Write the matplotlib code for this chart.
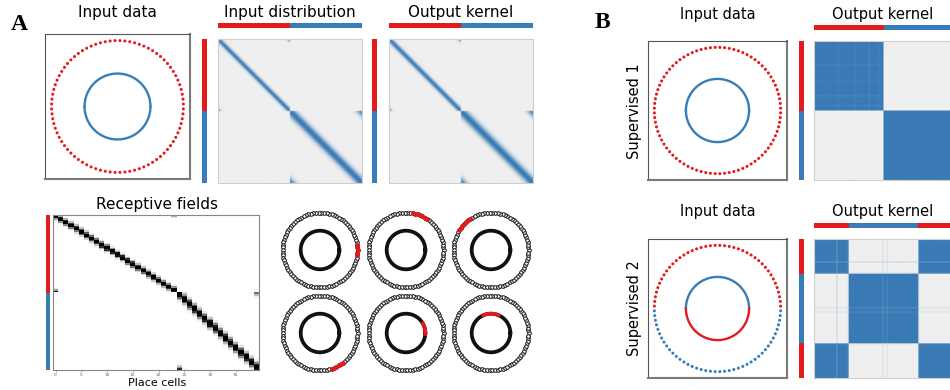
import numpy as np
import matplotlib
matplotlib.use('Agg')
import matplotlib.pyplot as plt
from matplotlib.colors import LinearSegmentedColormap

# ---------------- colours ----------------
RED = '#e41a1c'
BLUE = '#377eb8'
KBLUE = '#3a7ab5'
BG = '#efefef'
kcmap = LinearSegmentedColormap.from_list('kern', [BG, KBLUE])

# ---------------- data ----------------
n_outer_dots = 84
n_ring_markers = 90
outer_radius = 1.0
inner_radius = 0.5

# Panel A: Gaussian-band kernels (width in samples, one per ring)
a_block = 50
a_input_sigma = [1.5, 2.8]
a_output_sigma = [1.6, 2.9]
a_segments = [(RED, 50), (BLUE, 50)]

# Panel A: receptive fields of the 40 place cells (centre position, 0..100)
rf_centers = [0.5, 2.6, 4.7, 6.8, 8.8, 10.9, 13.0, 15.1, 17.2, 19.3, 21.3, 23.4,
              25.5, 27.6, 29.7, 31.8, 33.8, 35.9, 38.0, 40.1, 42.2, 44.3, 46.3, 48.4,
              51.2, 54.3, 57.5, 60.6, 63.7, 66.8, 70.0, 73.1, 76.2, 79.3, 82.5, 85.6,
              88.7, 91.8, 95.0, 98.1]
rf_sigma = [1.3, 1.9]
rf_ticks = [0, 5, 10, 15, 20, 25, 30, 35]

# Panel A: highlighted receptive field arcs (ring, start deg, end deg)
cell_arcs = [("outer", -10, 12), ("outer", 55, 80), ("outer", 122, 148),
             ("outer", -72, -50), ("inner", -8, 35), ("inner", 62, 118)]

# Panel B1: two classes, within-class weights (lighter lines)
b1_segments = [(RED, 50), (BLUE, 50)]
b1_weights = {17: 0.93, 29: 0.95, 39: 0.92, 46: 0.95}

# Panel B2: four quarters, class of each quarter (0 = red, 1 = blue)
b2_segments = [(RED, 25), (BLUE, 50), (RED, 25)]
b2_quarter_class = [0, 1, 1, 0]
b2_mixed = {16: 0.82, 24: 0.92, 49: 0.88, 52: 0.9, 75: 0.92}
b2_outer_colors = (RED, BLUE)   # (top half, bottom half)
b2_inner_colors = (BLUE, RED)

# ---------------- helpers ----------------
W, H = 950, 390
fig = plt.figure(figsize=(9.5, 3.9), dpi=100)
fig.patch.set_facecolor('white')


def add_ax(x, y, w, h):
    return fig.add_axes([x / W, 1 - (y + h) / H, w / W, h / H])


def ftext(x, y, s, **kw):
    fig.text(x / W, 1 - y / H, s, ha='center', va='center', **kw)


def bar(x, y, w, h, segments, vertical):
    ax = add_ax(x, y, w, h)
    total = sum(n for _, n in segments)
    start = 0
    for col, n in segments:
        if vertical:
            ax.axhspan(total - start - n, total - start, color=col, lw=0)
        else:
            ax.axvspan(start, start + n, color=col, lw=0)
        start += n
    ax.set_xlim(0, total)
    ax.set_ylim(0, total)
    ax.axis('off')
    return ax


def band_kernel(block, sigmas):
    n = block * len(sigmas)
    K = np.zeros((n, n))
    idx = np.arange(block)
    d = np.abs(idx[:, None] - idx[None, :])
    d = np.minimum(d, block - d)
    for b, s in enumerate(sigmas):
        K[b * block:(b + 1) * block, b * block:(b + 1) * block] = np.exp(-d ** 2 / (2 * s ** 2))
    return K


def kernel_ax(x, y, size, K, vmax=1.0):
    ax = add_ax(x, y, size, size)
    ax.imshow(K, cmap=kcmap, vmin=0, vmax=vmax, interpolation='bilinear', aspect='auto')
    ax.set_xticks([])
    ax.set_yticks([])
    for sp in ax.spines.values():
        sp.set_color('#cfcfcf')
        sp.set_linewidth(0.8)
    return ax


def data_ax(x, y, size, outer_cols, inner_cols):
    ax = add_ax(x, y, size, size)
    th = np.linspace(0, 2 * np.pi, n_outer_dots, endpoint=False) + np.pi / n_outer_dots
    cols = [outer_cols[0] if np.sin(t) >= 0 else outer_cols[1] for t in th]
    ax.scatter(outer_radius * np.cos(th), outer_radius * np.sin(th), s=4.8, c=cols, lw=0)
    t1 = np.linspace(0, np.pi, 200)
    t2 = np.linspace(np.pi, 2 * np.pi, 200)
    ax.plot(inner_radius * np.cos(t1), inner_radius * np.sin(t1), color=inner_cols[0], lw=1.7)
    ax.plot(inner_radius * np.cos(t2), inner_radius * np.sin(t2), color=inner_cols[1], lw=1.7)
    ax.set_xlim(-1.1, 1.1)
    ax.set_ylim(-1.1, 1.1)
    ax.set_xticks([])
    ax.set_yticks([])
    for k in ('left', 'top'):
        ax.spines[k].set_color('#555555')
        ax.spines[k].set_linewidth(0.8)
    for k in ('right', 'bottom'):
        ax.spines[k].set_color('#7a7a7a')
        ax.spines[k].set_linewidth(1.5)
    return ax


# ---------------- panel labels ----------------
for lab, x, y in (("A", 19, 24), ("B", 602, 22)):
    fig.text(x / W, 1 - y / H, lab, ha='center', va='center', fontsize=17,
             fontweight='bold', family='Liberation Serif')

# ---------------- Panel A top ----------------
data_ax(45, 34, 145, (RED, RED), (BLUE, BLUE))
ftext(117, 13, "Input data", fontsize=11)

bar(202, 39, 5, 144, a_segments, True)
bar(218, 23, 144, 4.5, a_segments, False)
kernel_ax(218, 39, 144, band_kernel(a_block, a_input_sigma), vmax=0.95)
ftext(290, 13, "Input distribution", fontsize=11)

bar(372, 39, 5, 144, a_segments, True)
bar(389, 23, 144, 4.5, a_segments, False)
kernel_ax(389, 39, 144, band_kernel(a_block, a_output_sigma), vmax=0.95)
ftext(461, 13, "Output kernel", fontsize=11)

# ---------------- Panel A receptive fields ----------------
n_pos = 100
pos = np.arange(n_pos) + 0.5
RF = np.zeros((n_pos, len(rf_centers)))
for c, mu in enumerate(rf_centers):
    blk = 0 if mu < 50 else 1
    lo = blk * 50
    p = pos[lo:lo + 50]
    d = np.abs(p - mu)
    d = np.minimum(d, 50 - d)
    RF[lo:lo + 50, c] = np.exp(-d ** 2 / (2 * rf_sigma[blk] ** 2))

rax = add_ax(53, 215, 206, 155)
rax.imshow(RF, cmap='gray_r', vmin=0, vmax=0.8, aspect='auto',
           extent=(-0.5, len(rf_centers) - 0.5, n_pos, 0), interpolation='nearest')
rax.set_xticks(rf_ticks)
rax.set_xticklabels([str(t) for t in rf_ticks])
rax.set_yticks([])
rax.tick_params(axis='x', length=1.5, width=0.4, colors='#666666', labelsize=3.2, pad=1)
for sp in rax.spines.values():
    sp.set_color('#888888')
    sp.set_linewidth(0.8)
bar(46, 215, 3.5, 155, a_segments, True)
ftext(157, 205, "Receptive fields", fontsize=11)
ftext(157, 383, "Place cells", fontsize=8)

# ---------------- Panel A ring diagrams ----------------
ring_centers = [(320, 250), (406, 250), (491, 250), (320, 333), (406, 333), (491, 333)]
th = np.linspace(0, 2 * np.pi, n_ring_markers, endpoint=False)
deg = np.degrees(th)
deg = np.where(deg > 180, deg - 360, deg)
tt = np.linspace(0, 2 * np.pi, 300)
r_in = inner_radius * 1.03
for (cx, cy), (ring, a0, a1) in zip(ring_centers, cell_arcs):
    ax = add_ax(cx - 42, cy - 42, 84, 84)
    ax.plot(outer_radius * np.cos(th), outer_radius * np.sin(th), 'o', ms=2.6,
            mfc='white', mec='#111111', mew=0.7, ls='none')
    ax.plot(r_in * np.cos(tt), r_in * np.sin(tt), color='#111111', lw=2.7)
    sel = (deg >= a0) & (deg <= a1)
    if ring == "outer":
        ax.plot(outer_radius * np.cos(th[sel]), outer_radius * np.sin(th[sel]), 'o', ms=2.6,
                mfc=RED, mec=RED, mew=0.6, ls='none')
    else:
        ta = np.radians(np.linspace(a0, a1, 60))
        ax.plot(r_in * np.cos(ta), r_in * np.sin(ta), color=RED, lw=2.7, solid_capstyle='butt')
    ax.set_xlim(-1.12, 1.12)
    ax.set_ylim(-1.12, 1.12)
    ax.axis('off')

# ---------------- Panel B ----------------
# B1
data_ax(648, 41, 139, (RED, RED), (BLUE, BLUE))
ftext(718, 15, "Input data", fontsize=10.5)
ftext(883, 15, "Output kernel", fontsize=10.5)
fig.text(635 / W, 1 - 111 / H, "Supervised 1", rotation=90, ha='center', va='center', fontsize=10.5)
bar(799, 41, 4.5, 139, b1_segments, True)
bar(814, 25, 139, 4.5, b1_segments, False)
n_b = sum(n for _, n in b1_segments)
lab1 = np.repeat(np.arange(len(b1_segments)), [n for _, n in b1_segments])
w1 = np.ones(n_b)
for i, v in b1_weights.items():
    w1[i] = v
K1 = (lab1[:, None] == lab1[None, :]) * (w1[:, None] * w1[None, :])
kernel_ax(814, 41, 139, K1)

# B2
data_ax(648, 239, 139, b2_outer_colors, b2_inner_colors)
ftext(718, 212, "Input data", fontsize=10.5)
ftext(883, 212, "Output kernel", fontsize=10.5)
fig.text(635 / W, 1 - 308 / H, "Supervised 2", rotation=90, ha='center', va='center', fontsize=10.5)
bar(799, 239, 4.5, 139, b2_segments, True)
bar(814, 223, 139, 4.5, b2_segments, False)
lab2 = np.repeat(b2_quarter_class, 25)
p_red = (lab2 == 0).astype(float)
for i, v in b2_mixed.items():
    p_red[i] = v if lab2[i] == 0 else 1 - v
S = np.stack([p_red, 1 - p_red], axis=1)
K2 = S @ S.T
kernel_ax(814, 239, 139, K2)

fig.savefig('out.png', dpi=100)
